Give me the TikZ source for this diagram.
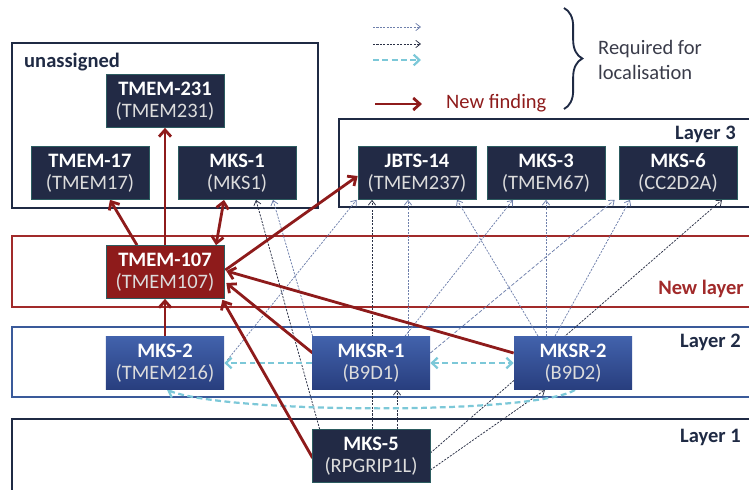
\documentclass[tikz,border=0pt]{standalone}
\usepackage{fontspec}
\setmainfont{Carlito}
\usetikzlibrary{calc, positioning, arrows.meta, backgrounds, decorations.pathreplacing}

\definecolor{navy}{HTML}{222A45}
\definecolor{navyline}{HTML}{1F2A44}
\definecolor{findred}{HTML}{8E1B1B}
\definecolor{layerred}{HTML}{A12A2A}
\definecolor{layerblue}{HTML}{3A5A9A}
\definecolor{boxblueA}{HTML}{4262AC}
\definecolor{boxblueB}{HTML}{283E7E}
\definecolor{reqgray}{HTML}{6F80AC}
\definecolor{reqdark}{HTML}{2A3045}
\definecolor{reqcyan}{HTML}{7CC8D8}
\definecolor{edgeteal}{HTML}{2C5C60}
\definecolor{genegray}{HTML}{DCDCDC}
\definecolor{legendgray}{HTML}{3A3C4A}

\newcommand{\gene}[1]{{\color{genegray}(#1)}}

\begin{document}
\begin{tikzpicture}[x=0.03cm, y=-0.03cm, font=\fontsize{17.5}{21.3}\selectfont,
    protein/.style={draw=edgeteal, line width=0.6pt, fill=navy, rectangle, minimum width=3.54cm, minimum height=1.59cm, inner sep=0pt, align=center, text=white, font=\fontsize{17.5}{19}\selectfont},
    newprot/.style={protein, fill=findred},
    ltwoprot/.style={protein, draw=none, top color=boxblueA, bottom color=boxblueB},
    layerbox/.style={line width=1.6pt},
    layername/.style={inner sep=0pt, text=navyline, font=\fontsize{17.5}{21}\selectfont\bfseries},
    newfind/.style={>={Straight Barb[length=2mm,width=3.6mm]}, ->, findred, line width=2.4pt},
    reqa/.style={>={Straight Barb[length=1.4mm,width=2.2mm]}, ->, reqgray, line width=0.65pt, dash pattern=on 1.8pt off 1.1pt},
    reqb/.style={>={Straight Barb[length=1.4mm,width=2.2mm]}, ->, reqdark, line width=0.65pt, dash pattern=on 1.8pt off 1.1pt},
    reqc/.style={>={Straight Barb[length=1.7mm,width=3.2mm]}, ->, reqcyan, line width=1.9pt, dash pattern=on 5pt off 3pt}]
    \useasboundingbox (0,0) rectangle (749,490);

    \node[protein] (tmem231) at (165,101) {\textbf{TMEM-231}\\\gene{TMEM231}};
    \node[protein] (tmem17) at (90,173) {\textbf{TMEM-17}\\\gene{TMEM17}};
    \node[protein] (mks1) at (237,173) {\textbf{MKS-1}\\\gene{MKS1}};

    \node[protein] (jbts14) at (417,173) {\textbf{JBTS-14}\\\gene{TMEM237}};
    \node[protein] (mks3) at (546,173) {\textbf{MKS-3}\\\gene{TMEM67}};
    \node[protein] (mks6) at (678,173) {\textbf{MKS-6}\\\gene{CC2D2A}};

    \node[newprot] (tmem107) at (165,272) {\textbf{TMEM-107}\\\gene{TMEM107}};

    \node[ltwoprot] (mks2) at (165,363) {\textbf{MKS-2}\\\gene{TMEM216}};
    \node[ltwoprot] (mksr1) at (371,363) {\textbf{MKSR-1}\\\gene{B9D1}};
    \node[ltwoprot] (mksr2) at (573,363) {\textbf{MKSR-2}\\\gene{B9D2}};

    \node[protein] (mks5) at (371,456) {\textbf{MKS-5}\\\gene{RPGRIP1L}};

    \node[layername, anchor=west] (unassignedlbl) at (24,62) {unassigned};
    \node[layername, anchor=east] (layerthreelbl) at (736,134) {Layer 3};
    \node[layername, anchor=east, text=layerred] (newlayerlbl) at (744,289) {New layer};
    \node[layername, anchor=east] (layertwolbl) at (741,342) {Layer 2};
    \node[layername, anchor=east] (layeronelbl) at (741,437) {Layer 1};

    \coordinate (lega) at (373,27);
    \coordinate (legaend) at (421,27);
    \coordinate (legb) at (373,44);
    \coordinate (legbend) at (421,44);
    \coordinate (legc) at (373,60);
    \coordinate (legcend) at (421,60);
    \coordinate (legd) at (375,104);
    \coordinate (legdend) at (422,104);
    \coordinate (bracetop) at (564,8);
    \coordinate (bracebot) at (564,109);
    \node[anchor=west, inner sep=0pt, text=findred] (newfindlbl) at (446,103) {New finding};
    \node[anchor=west, inner sep=0pt, align=left, text=legendgray] (reqlbl) at (598,60) {Required for\\localisation};

    \draw[reqa] (lega) -- (legaend);
    \draw[reqb] (legb) -- (legbend);
    \draw[reqc] (legc) -- (legcend);
    \draw[newfind] (legd) -- (legdend);
    \draw[navyline, line width=1.6pt, decorate, decoration={brace, amplitude=0.55cm, aspect=0.5}] (bracetop) -- (bracebot);

    \begin{scope}[on background layer]
        \draw[layerbox, navyline] (12,43) rectangle (318,208);
        \draw[layerbox, navyline] (749,119) -- (339,119) -- (339,207) -- (749,207);
        \draw[layerbox, layerred] (749,236) -- (12,236) -- (12,307) -- (749,307);
        \draw[layerbox, layerblue, line width=1.3pt] (749,327) -- (12,327) -- (12,397) -- (749,397);
        \draw[layerbox, navyline, line width=2.2pt] (749,419) -- (12,419) -- (12,490);

        \draw[reqa] ($(mksr1.north west)+(1,0)$) -- ($(mks1.south)+(36,0)$);
        \draw[reqa] ($(mks2.east)+(3,-3)$) -- ($(jbts14.south west)+(-1,0)$);
        \draw[reqa] ($(mksr1.north)+(37,0)$) -- ($(jbts14.south)+(-9,0)$);
        \draw[reqa] ($(mksr1.north)+(34,0)$) -- ($(mks3.south)+(-33,0)$);
        \draw[reqa, dash pattern=on 3pt off 1.5pt] ($(mksr1.east)+(0,-10)$) -- ($(mks6.south west)+(-4,0)$);
        \draw[reqa] ($(mksr2.north)+(-35,0)$) -- ($(jbts14.south)+(40,0)$);
        \draw[reqa] ($(mksr2.north)+(-27,0)$) -- (mks3.south);
        \draw[reqa] ($(mksr2.north)+(-18,0)$) -- ($(mks6.south)+(-48,0)$);

        \draw[reqb] ($(mks5.north west)+(8,0)$) -- ($(mks1.south)+(19,0)$);
        \draw[reqb] ($(mks5.north)+(1,0)$) -- ($(jbts14.south)+(-45,0)$);
        \draw[reqb] ($(mks5.north)+(26,0)$) -- ($(mksr1.south)+(26,0)$);
        \draw[reqb] ($(mks5.east)+(0,-3)$) -- ($(mks6.south)+(44,0)$);
        \draw[reqb] ($(mks5.east)+(0,14)$) -- ($(mksr2.south)+(-28,0)$);

        \draw[reqc] (mksr1.west) -- (mks2.east);
        \draw[reqc, <->] (mksr1.east) -- (mksr2.west);
        \draw[reqc] ($(mksr2.south)+(2,0)$) .. controls +(-40,25) and +(60,24) .. ($(mks2.south)+(2,0)$);

        \draw[newfind] ($(tmem107.north)+(-28,0)$) -- ($(tmem17.south)+(20,0)$);
        \draw[newfind] (tmem107.north) -- (tmem231.south);
        \draw[newfind, <->] ($(tmem107.north)+(51,0)$) -- ($(mks1.south)+(-13,0)$);
        \draw[newfind] ($(tmem107.east)+(1,-2)$) -- ($(jbts14.west)+(0,3)$);
        \draw[newfind] ($(mksr2.west)+(0,-10)$) -- ($(tmem107.east)+(2,-1)$);
        \draw[newfind] ($(mksr1.west)+(1,-10)$) -- ($(tmem107.east)+(2,11)$);
        \draw[newfind] ($(mks5.west)+(1,2)$) -- ($(tmem107.south east)+(-2,1)$);
        \draw[newfind] (mks2.north) -- (tmem107.south);
    \end{scope}
\end{tikzpicture}
\end{document}
